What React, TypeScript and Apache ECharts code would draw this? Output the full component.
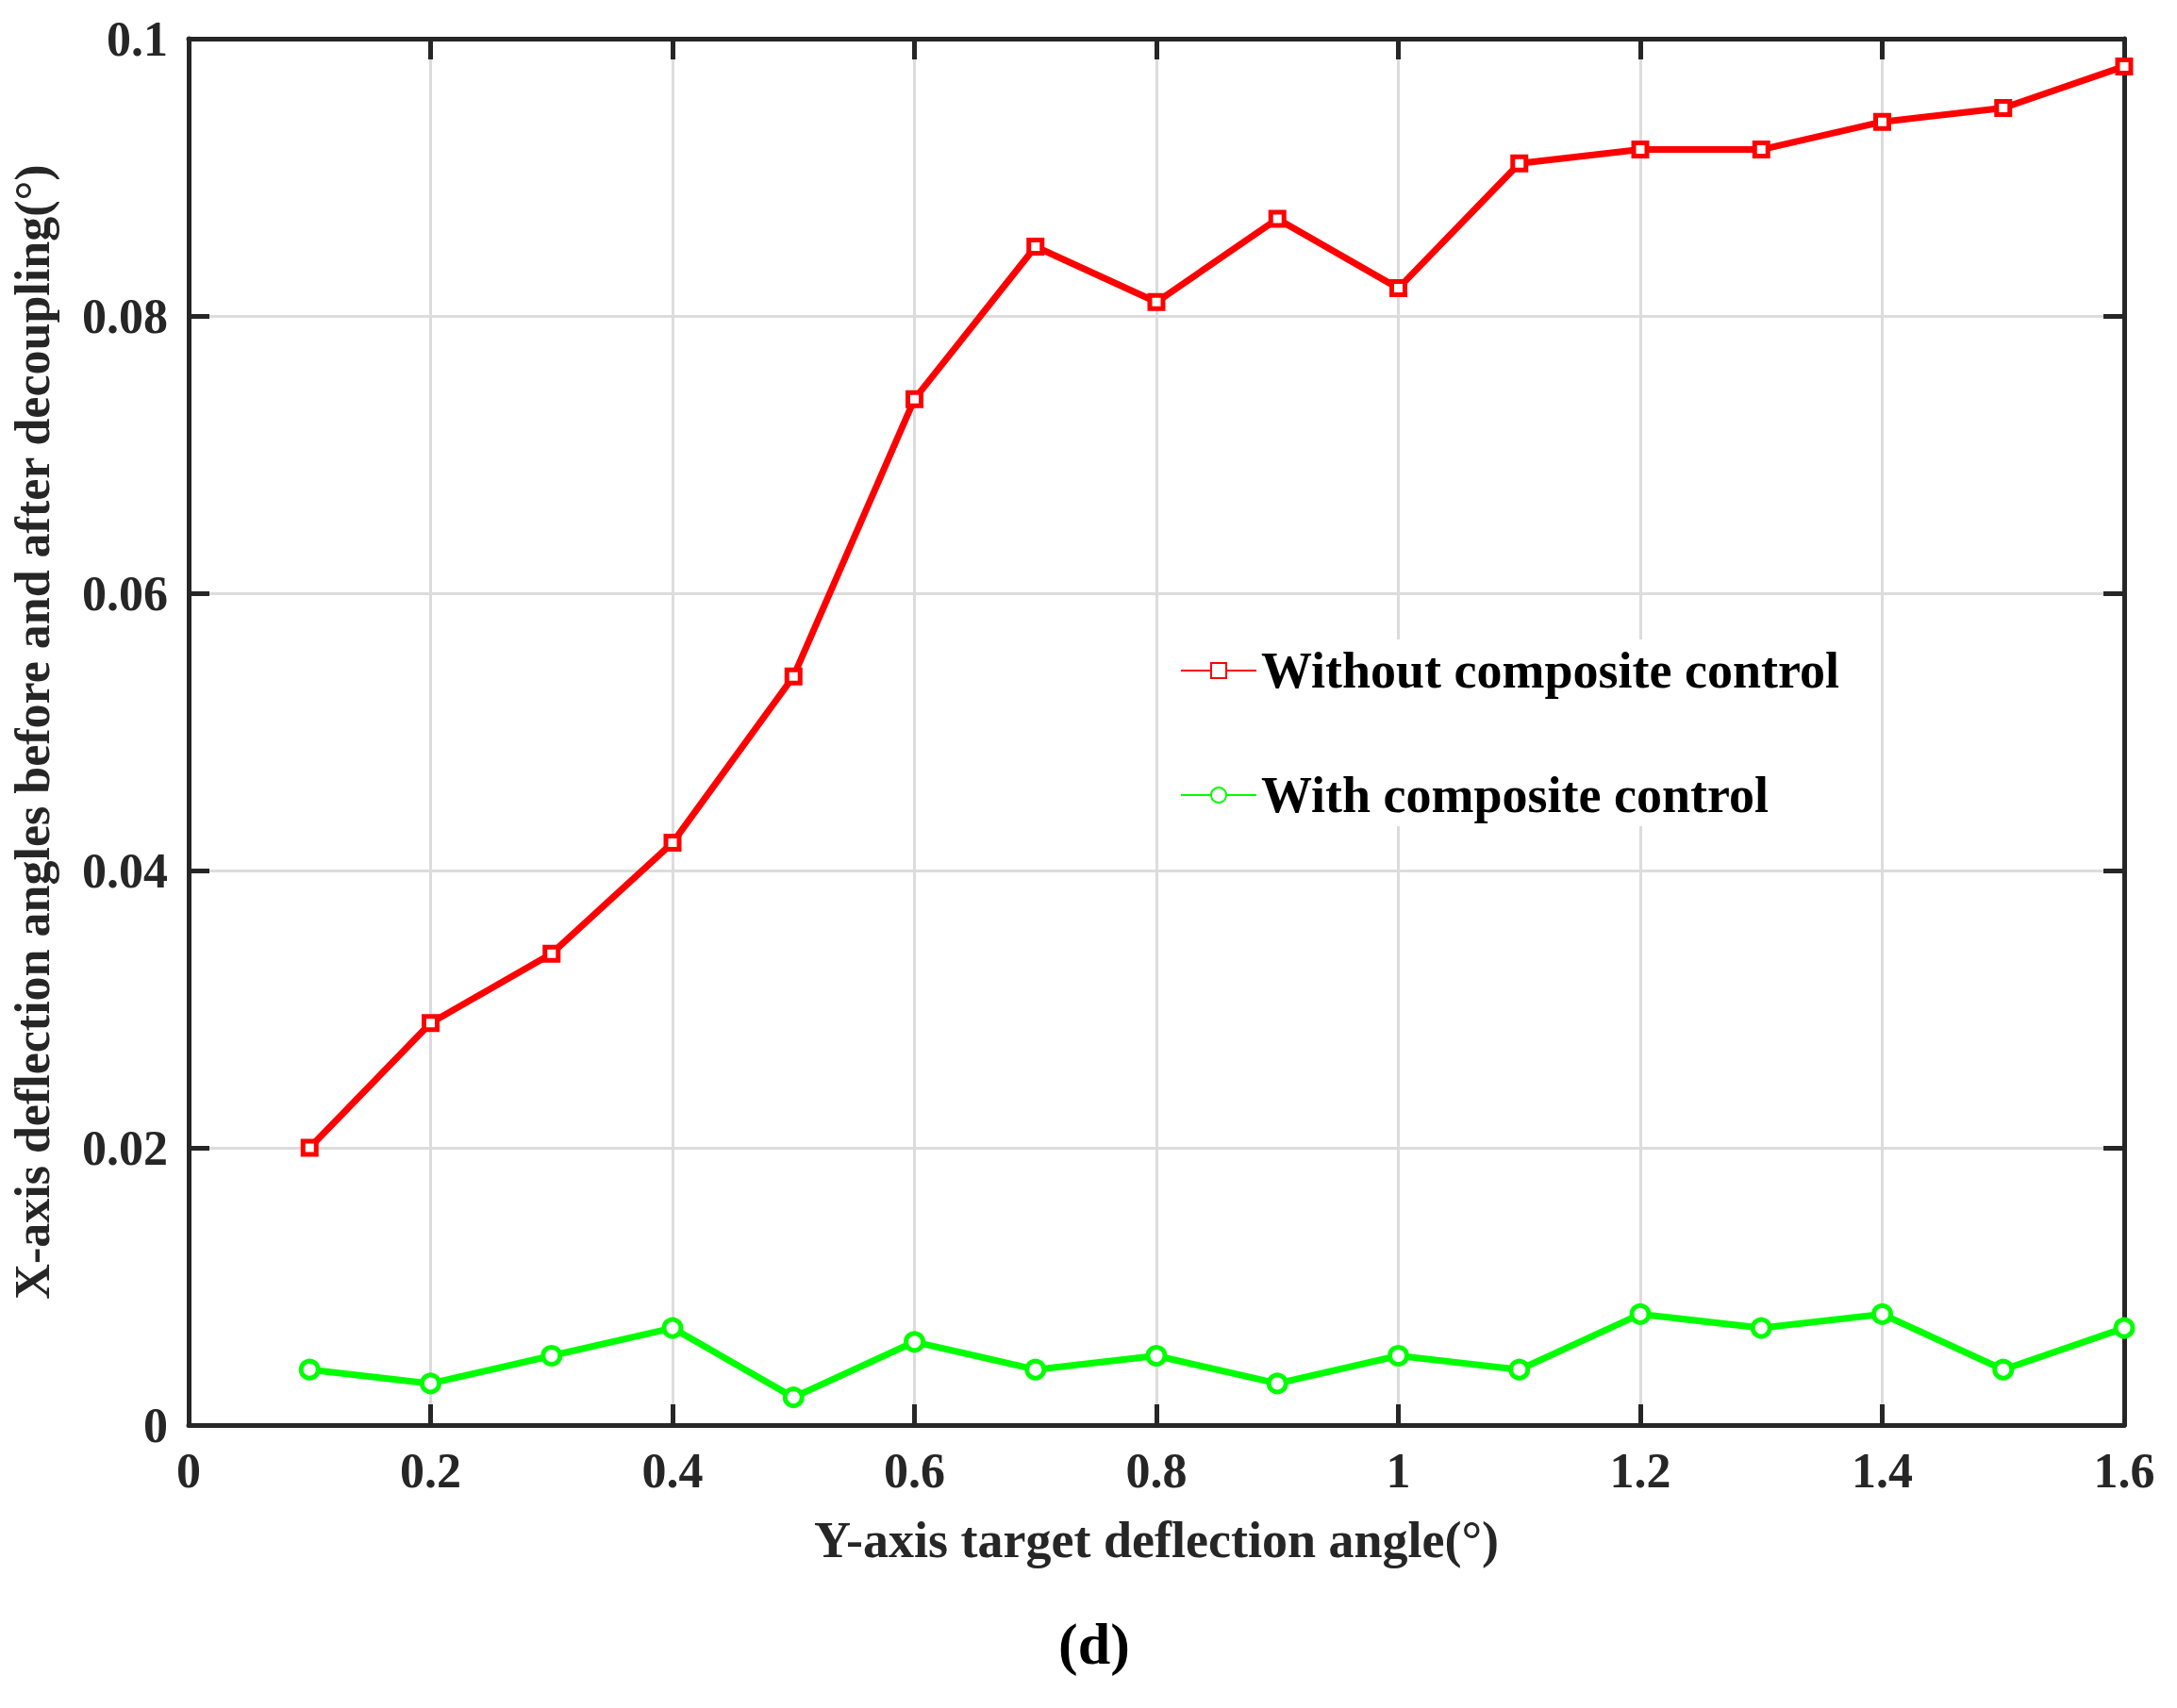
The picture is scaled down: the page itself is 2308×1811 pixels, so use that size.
import { useEffect, useRef } from "react";
import * as echarts from "echarts";

const xValues = [0.1, 0.2, 0.3, 0.4, 0.5, 0.6, 0.7, 0.8, 0.9, 1.0, 1.1, 1.2, 1.3, 1.4, 1.5, 1.6];
const withoutControl = [0.02, 0.029, 0.034, 0.042, 0.054, 0.074, 0.085, 0.081, 0.087, 0.082, 0.091, 0.092, 0.092, 0.094, 0.095, 0.098];
const withControl = [0.004, 0.003, 0.005, 0.007, 0.002, 0.006, 0.004, 0.005, 0.003, 0.005, 0.004, 0.008, 0.007, 0.008, 0.004, 0.007];

const FONT = "'Liberation Serif', 'Times New Roman', serif";
const INK = "#262626";

export default function App() {
  const ref = useRef<HTMLDivElement>(null);

  useEffect(() => {
    document.body.style.margin = "0";
    if (!ref.current) return;
    const chart = echarts.init(ref.current, undefined, { renderer: "svg" });
    const label = { color: INK, fontFamily: FONT, fontWeight: "bold" as const, fontSize: 52 };
    const axisLine = { show: true, onZero: false, lineStyle: { color: INK, width: 5 } };
    const axisTick = { show: true, inside: true, length: 22, lineStyle: { color: INK, width: 5 } };
    const fmt = (v: number) => String(Math.round(v * 1000) / 1000);
    chart.setOption({
      animation: false,
      backgroundColor: "#fff",
      grid: { left: 199, right: 56, top: 41, bottom: 300 },
      legend: {
        orient: "vertical",
        left: 1245,
        top: 678,
        itemWidth: 80,
        itemHeight: 20,
        itemGap: 78,
        padding: [6, 10, 6, 6],
        backgroundColor: "#fff",
        textStyle: { ...label, color: "#000", fontSize: 54 },
        data: ["Without composite control", "With composite control"],
      },
      xAxis: [
        {
          type: "value", min: 0, max: 1.6, interval: 0.2,
          axisLine, axisTick,
          axisLabel: { ...label, margin: 22, formatter: fmt },
          splitLine: { show: true, lineStyle: { color: "#dcdcdc", width: 3 } },
          name: "Y-axis target deflection angle(°)",
          nameLocation: "middle", nameGap: 95,
          nameTextStyle: { ...label, fontSize: 54 },
        },
        {
          type: "value", position: "top", min: 0, max: 1.6, interval: 0.2,
          axisLine, axisTick, axisLabel: { show: false }, splitLine: { show: false },
        },
      ],
      yAxis: [
        {
          type: "value", min: 0, max: 0.1, interval: 0.02,
          axisLine, axisTick,
          axisLabel: { ...label, margin: 22, formatter: fmt },
          splitLine: { show: true, lineStyle: { color: "#dcdcdc", width: 3 } },
          name: "X-axis deflection angles before and after decoupling(°)",
          nameLocation: "middle", nameGap: 140,
          nameTextStyle: { ...label, fontSize: 52 },
        },
        {
          type: "value", position: "right", min: 0, max: 0.1, interval: 0.02,
          axisLine, axisTick, axisLabel: { show: false }, splitLine: { show: false },
        },
      ],
      series: [
        {
          name: "Without composite control",
          type: "line",
          data: xValues.map((x, i) => [x, withoutControl[i]]),
          symbol: "rect", symbolSize: 14,
          lineStyle: { color: "#ff0000", width: 7 },
          itemStyle: { color: "#fff", borderColor: "#ff0000", borderWidth: 5 },
          color: "#ff0000",
        },
        {
          name: "With composite control",
          type: "line",
          data: xValues.map((x, i) => [x, withControl[i]]),
          symbol: "circle", symbolSize: 18,
          lineStyle: { color: "#00ff00", width: 7 },
          itemStyle: { color: "#fff", borderColor: "#00ff00", borderWidth: 5 },
          color: "#00ff00",
        },
      ],
      graphic: [
        {
          type: "text", left: 1122, top: 1712,
          style: { text: "(d)", font: `bold 62px ${FONT}`, fill: "#000" },
        },
      ],
    });
    return () => chart.dispose();
  }, []);

  return <div ref={ref} style={{ width: 2308, height: 1811 }} />;
}
